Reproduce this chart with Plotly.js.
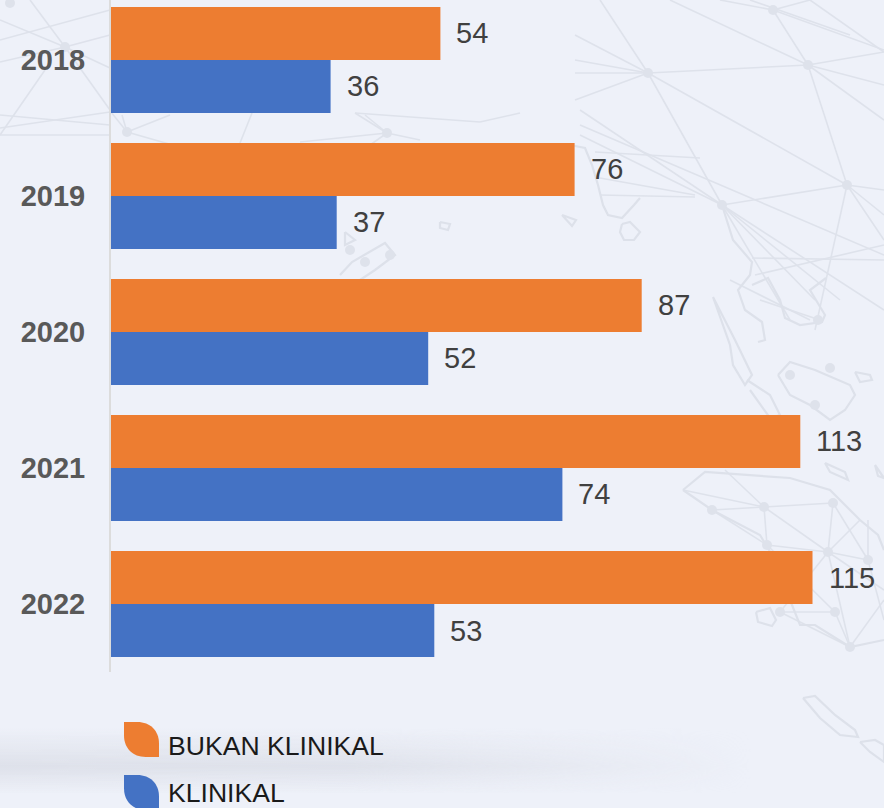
<!DOCTYPE html>
<html>
<head>
<meta charset="utf-8">
<script src="https://cdn.plot.ly/plotly-3.0.1.min.js"></script>
<style>
html,body{margin:0;padding:0;width:884px;height:808px;overflow:hidden;background:#eef1f9}
#bg{position:absolute;left:0;top:0}
#chart{position:absolute;left:0;top:0;width:884px;height:808px}
</style>
</head>
<body>
<svg id="bg" width="884" height="808" xmlns="http://www.w3.org/2000/svg"></svg>
<div id="chart"></div>
<script>
// ---- chart data ----
const years = ['2018','2019','2020','2021','2022'];
const bukanKlinikal = [54,76,87,113,115];
const klinikal = [36,37,52,74,53];
const seriesNames = ['BUKAN KLINIKAL','KLINIKAL'];
const seriesColors = ['#ED7D31','#4472C4'];

// ---- decorative backdrop (faint map network, not data) ----
const netLines = [
 [[30,0],[65,47]],[[65,47],[110,110]],[[0,20],[65,47]],[[0,62],[65,47]],[[0,40],[110,10]],[[45,70],[0,135]],
 [[0,115],[110,125]],[[0,128],[110,112]],[[0,135],[110,135]],[[65,47],[110,35]],[[65,47],[110,68]],
 [[127,132],[111,112]],[[127,132],[190,150]],[[127,132],[170,115]],[[122,115],[127,132]],[[252,113],[240,143]],
 [[387,133],[355,113]],[[387,133],[365,115]],[[387,133],[420,140]],[[387,133],[300,142]],[[387,133],[370,145]],
 [[355,113],[480,122]],[[480,122],[520,113]],
 [[600,0],[648,73]],[[648,73],[722,205]],[[648,73],[808,65]],[[648,73],[847,185]],[[648,73],[575,35]],[[648,73],[575,60]],[[648,73],[575,73]],[[648,73],[575,100]],
 [[808,65],[773,10]],[[808,65],[847,185]],[[808,65],[670,0]],[[808,65],[884,52]],[[808,65],[884,85]],[[808,65],[884,120]],
 [[773,10],[720,0]],[[773,10],[884,50]],[[773,10],[810,0]],[[810,0],[884,52]],[[750,0],[850,35]],
 [[722,205],[847,185]],[[722,205],[580,110]],[[722,205],[580,135]],[[722,205],[884,310]],[[722,205],[840,300]],[[722,205],[815,300]],[[722,205],[790,320]],
 [[580,125],[884,255]],[[847,185],[884,190]],[[847,185],[884,215]],[[847,185],[884,240]],[[847,185],[815,330]],
 [[595,152],[700,158]],[[600,178],[695,195]],[[600,195],[695,197]],
 [[752,258],[884,260]],[[755,275],[884,245]],[[730,280],[810,320]],[[760,300],[820,320]],
 [[683,490],[764,507]],[[712,510],[764,507]],[[764,507],[833,503]],[[764,507],[767,545]],[[764,507],[828,552]],[[764,507],[725,470]],[[833,503],[828,552]],
 [[833,503],[868,560]],[[828,552],[868,560]],[[767,545],[828,552]],[[712,510],[767,545]],[[767,545],[835,612]],[[828,552],[780,612]],[[828,552],[884,590]],[[828,552],[850,647]],
 [[868,560],[884,620]],[[780,612],[835,612]],[[835,612],[850,647]],[[850,647],[884,600]],[[780,612],[850,647]],[[860,520],[828,552]],[[868,520],[868,560]]
];
const mapOutlines = [
 [[570,145],[585,148],[592,165],[598,185],[603,205],[608,215],[622,218],[634,205],[640,198]],
 [[622,224],[630,222],[640,232],[634,240],[624,240],[620,232],[622,224]],
 [[722,205],[733,240],[752,262],[750,275],[738,290],[745,310],[762,322],[765,340],[758,342]],
 [[752,285],[768,278],[780,300],[785,318],[800,325],[822,322],[825,315],[810,290],[826,278]],
 [[713,297],[735,340],[752,375],[745,385],[733,365],[730,345],[713,297]],
 [[747,380],[770,395],[780,415],[770,418],[750,390]],
 [[778,375],[790,362],[815,370],[850,385],[855,395],[845,410],[830,420],[810,405],[790,395],[778,375]],
 [[855,372],[870,375],[872,380],[860,382],[855,372]],
 [[683,490],[705,472],[790,478],[830,490],[860,520],[878,535],[884,550]],
 [[683,490],[712,510],[760,535],[775,560],[790,600],[800,625],[815,625],[850,647],[884,640]],
 [[756,612],[770,608],[776,620],[772,626],[758,622],[756,612]],
 [[803,698],[815,696],[835,715],[855,730],[858,737],[840,735],[820,718],[803,698]],
 [[860,742],[875,740],[884,745],[884,762],[870,752],[860,742]],
 [[825,463],[845,472],[848,480],[830,472],[825,463]],[[875,465],[884,478],[878,476],[875,465]],
 [[340,275],[352,262],[385,243],[395,255],[375,270],[360,280]],
 [[345,232],[355,240],[345,245],[345,232]],
 [[440,222],[450,224],[448,230],[440,228],[440,222]],
 [[562,215],[576,220],[572,226],[562,215]]
];
const netNodes = [[648,73],[808,65],[847,185],[722,205],[773,10],[65,47],[127,132],[10,3],[387,133],[712,510],[764,507],[833,503],[767,545],[828,552],[868,560],[780,612],[835,612],[850,647],[818,320],[790,375],[815,405],[830,368],[350,250],[365,262],[390,255]];

(function drawBackdrop(){
  const ns='http://www.w3.org/2000/svg', svg=document.getElementById('bg');
  const mk=(t,a)=>{const e=document.createElementNS(ns,t);for(const k in a)e.setAttribute(k,a[k]);return e;};
  const defs=mk('defs',{});
  const g=mk('linearGradient',{id:'band',x1:0,y1:0,x2:0,y2:1});
  [[0,0],[.35,.55],[.58,.95],[.75,.55],[1,0]].forEach(s=>g.appendChild(mk('stop',{offset:s[0],'stop-color':'#dde0e9','stop-opacity':s[1]})));
  defs.appendChild(g);
  const h=mk('linearGradient',{id:'fade',x1:0,y1:0,x2:1,y2:0});
  [[0,1],[.4,.95],[.85,0],[1,0]].forEach(s=>h.appendChild(mk('stop',{offset:s[0],'stop-color':'#fff','stop-opacity':s[1]})));
  defs.appendChild(h);
  const m=mk('mask',{id:'fadeMask',maskUnits:'userSpaceOnUse',x:0,y:720,width:884,height:88});
  m.appendChild(mk('rect',{x:0,y:720,width:884,height:88,fill:'url(#fade)'}));
  defs.appendChild(m);
  svg.appendChild(defs);
  svg.appendChild(mk('rect',{x:0,y:728,width:884,height:66,fill:'url(#band)',mask:'url(#fadeMask)'}));
  netLines.forEach(l=>svg.appendChild(mk('line',{x1:l[0][0],y1:l[0][1],x2:l[1][0],y2:l[1][1],stroke:'#dee2eb','stroke-width':1.6})));
  mapOutlines.forEach(o=>svg.appendChild(mk('polyline',{points:o.map(p=>p.join(',')).join(' '),fill:'none',stroke:'#dde1ea','stroke-width':2.2})));
  netNodes.forEach(n=>svg.appendChild(mk('circle',{cx:n[0],cy:n[1],r:5,fill:'#dee2eb'})));
})();

// ---- chart ----
const fontFamily = '"Liberation Sans", Arial, sans-serif';
const makeTrace = (vals,i) => ({
  type:'bar', orientation:'h', name:seriesNames[i], y:years, x:vals,
  marker:{color:seriesColors[i], line:{width:0}},
  hoverinfo:'x+y'
});
const W=884,H=808,L=111,B=136,PW=W-L,PH=H-B;
const px=x=>(x-L)/PW, py=y=>(PH-y)/PH;
function leaf(x,y,w,h,color){
  const r=w*0.62;
  const p=(a,b)=>px(a)+' '+py(b);
  return {type:'path',xref:'paper',yref:'paper',fillcolor:color,line:{width:0},layer:'above',
    path:`M ${p(x,y)} L ${p(x+w-r,y)} C ${p(x+w-r*.4,y)} ${p(x+w,y+r*.4)} ${p(x+w,y+r)} L ${p(x+w,y+h)} L ${p(x+r,y+h)} C ${p(x+r*.4,y+h)} ${p(x,y+h-r*.4)} ${p(x,y+h-r)} Z`};
}
const legendText=(t,y)=>({xref:'paper',yref:'paper',x:px(167),y:py(y),xanchor:'left',yanchor:'middle',showarrow:false,borderpad:0,
  text:t,font:{family:fontFamily,size:26.6,color:'#1a1a1a'}});
// numeric-looking category names are read as positions in annotations, so the index is passed
const valueLabels=(vals,shift)=>vals.map((v,i)=>({xref:'x',yref:'y',x:v,y:i,xanchor:'left',yanchor:'middle',
  xshift:15,yshift:shift,showarrow:false,borderpad:0,text:String(v),
  font:{family:fontFamily,size:29,color:'#404040'}}));
const layout = {
  width:W,height:H,margin:{l:L,r:0,t:0,b:B,pad:0},
  paper_bgcolor:'rgba(0,0,0,0)',plot_bgcolor:'rgba(0,0,0,0)',
  barmode:'group',bargap:0.22,bargroupgap:0,showlegend:false,
  xaxis:{range:[0,PW/6.1],visible:false,fixedrange:true},
  yaxis:{type:'category',categoryorder:'array',categoryarray:years,range:[4.5,-0.441],
    showgrid:false,zeroline:false,showline:true,linecolor:'#dcdcdc',linewidth:2,
    ticks:'outside',ticklen:18,tickcolor:'rgba(0,0,0,0)',
    tickfont:{family:fontFamily,size:29,color:'#595959',weight:'bold'},fixedrange:true},
  shapes:[leaf(124,722,35,35,seriesColors[0]),leaf(124,775,35,35,seriesColors[1])],
  annotations:[...valueLabels(bukanKlinikal,26.5),...valueLabels(klinikal,-26.5),legendText(seriesNames[0],746),legendText(seriesNames[1],793)]
};
Plotly.newPlot('chart',[makeTrace(bukanKlinikal,0),makeTrace(klinikal,1)],layout,{displayModeBar:false,staticPlot:true});
</script>
</body>
</html>
